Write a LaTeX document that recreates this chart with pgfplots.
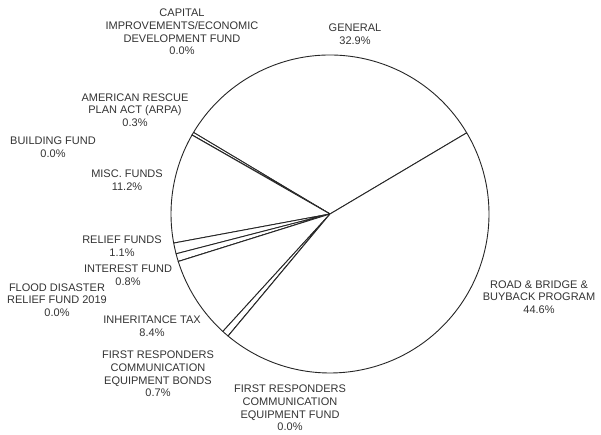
\documentclass[border=0pt]{standalone}
\usepackage{pgfplots}
\usepackage{pgfplotstable}
\pgfplotsset{compat=1.18}
\usepackage{fontspec}
\setmainfont{Liberation Sans}

% fund shares in percent, counter-clockwise from the start of GENERAL
\pgfplotstableread{
value
32.9
0.3
0.0
0.0
11.2
1.1
0.8
0.0
8.4
0.7
0.0
44.6
}\piedata
\pgfplotstablecreatecol[expr accum={\pgfmathaccuma+\thisrow{value}}{0}]{cum}\piedata
\pgfplotstablegetrowsof{\piedata}
\pgfmathtruncatemacro\lastrow{\pgfplotsretval-1}

\begin{document}
\begin{tikzpicture}
\useasboundingbox (0,0) rectangle (601pt,435pt);
\begin{axis}[
    width=601pt, height=435pt, scale only axis,
    xmin=0, xmax=601, ymin=0, ymax=435,
    hide axis, clip=false,
    nodes={font=\fontsize{11}{12.6}\selectfont, text=black!80, align=center},
]
\pgfplotsinvokeforeach{0,...,\lastrow}{
    \pgfplotstablegetelem{#1}{cum}\of\piedata \let\cumval=\pgfplotsretval
    \pgfplotstablegetelem{#1}{value}\of\piedata \let\val=\pgfplotsretval
    \pgfmathsetmacro\aend{30.7+3.6*\cumval}
    \pgfmathsetmacro\astart{\aend-3.6*\val}
    \edef\doslice{\noexpand\draw[black!85, line width=0.9pt, fill=white, line join=round]
        (axis cs:330,221) -- ++(\astart:159pt)
        arc[start angle=\astart, end angle=\aend, radius=159pt] -- cycle;}
    \doslice
}
\node at (axis cs:182,403) {CAPITAL\\IMPROVEMENTS/ECONOMIC\\DEVELOPMENT FUND\\0.0\%};
\node at (axis cs:355,401) {GENERAL\\32.9\%};
\node at (axis cs:135,325) {AMERICAN RESCUE\\PLAN ACT (ARPA)\\0.3\%};
\node at (axis cs:53,288) {BUILDING FUND\\0.0\%};
\node at (axis cs:127,255) {MISC. FUNDS\\11.2\%};
\node at (axis cs:122,189) {RELIEF FUNDS\\1.1\%};
\node at (axis cs:128,160) {INTEREST FUND\\0.8\%};
\node at (axis cs:57,135) {FLOOD DISASTER\\RELIEF FUND 2019\\0.0\%};
\node at (axis cs:152,109) {INHERITANCE TAX\\8.4\%};
\node at (axis cs:158,61) {FIRST RESPONDERS\\COMMUNICATION\\EQUIPMENT BONDS\\0.7\%};
\node at (axis cs:290,27) {FIRST RESPONDERS\\COMMUNICATION\\EQUIPMENT FUND\\0.0\%};
\node at (axis cs:539,138) {ROAD \& BRIDGE \&\\BUYBACK PROGRAM\\44.6\%};
\end{axis}
\end{tikzpicture}
\end{document}
